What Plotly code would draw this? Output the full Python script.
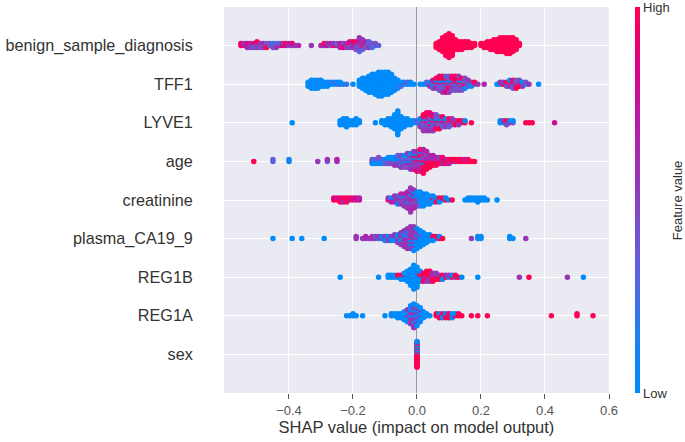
import numpy as np
import plotly.graph_objects as go

# features from bottom row to top row
features = ["sex", "REG1A", "REG1B", "plasma_CA19_9", "creatinine", "age",
            "LYVE1", "TFF1", "benign_sample_diagnosis"]

x_ticks = [-0.4, -0.2, 0.0, 0.2, 0.4, 0.6]
x_ticktext = ["\u22120.4", "\u22120.2", "0.0", "0.2", "0.4", "0.6"]

# shap values (binned) and the feature values of the points in each bin
# (one digit per point, 0 = low ... 9 = high)
benign_x = [-0.55, -0.54, -0.53, -0.52, -0.51, -0.50, -0.49, -0.48, -0.47, -0.46, -0.45, -0.44, -0.43,
            -0.42, -0.41, -0.40, -0.39, -0.38, -0.37, -0.33, -0.30, -0.29, -0.28, -0.27, -0.26, -0.25,
            -0.24, -0.23, -0.22, -0.21, -0.20, -0.19, -0.18, -0.17, -0.16, -0.15, -0.14, -0.13, -0.12,
            0.06, 0.07, 0.08, 0.09, 0.10, 0.11, 0.12, 0.13, 0.14, 0.15, 0.16, 0.17, 0.18,
            0.20, 0.21, 0.22, 0.23, 0.24, 0.25, 0.26, 0.27, 0.28, 0.29, 0.30, 0.31, 0.32]
benign_fv = ["98", "75", "586", "465", "573", "6459", "354", "465", "539", "34", "324", "235", "63",
             "85", "79", "46", "58", "5", "6", "5", "6", "59", "75", "46", "95", "63",
             "576", "648", "465", "5947", "5468", "65494", "56454735", "459635", "3546", "4253", "342", "34", "3",
             "999", "99999", "99999999", "99999999999", "9999999999999", "99999999999", "999999", "99999",
             "99999", "9999", "9999", "999", "99",
             "99", "999", "9999", "99999", "999999", "9999999", "99999999", "99999999", "999999999",
             "999999999", "99999999", "999999", "99"]

tff1_x = [-0.34, -0.33, -0.32, -0.31, -0.30, -0.29, -0.28, -0.27, -0.26, -0.25, -0.24, -0.23, -0.22,
          -0.20, -0.18, -0.17, -0.16, -0.15, -0.14, -0.13, -0.12, -0.11, -0.10, -0.09, -0.08, -0.07,
          -0.06, -0.05, -0.04, -0.03, -0.02, -0.01, 0.01, 0.02, 0.03, 0.04, 0.05, 0.06, 0.07, 0.08,
          0.09, 0.10, 0.11, 0.12, 0.13, 0.14, 0.15, 0.16, 0.17, 0.18, 0.19, 0.21, 0.25, 0.26, 0.27,
          0.28, 0.29, 0.30, 0.31, 0.32, 0.33, 0.34, 0.35, 0.38]
tff1_fv = ["000", "00100", "00000", "00010", "0000", "000", "010", "00", "02", "00", "30", "0", "2",
           "0", "0000", "000000", "0000000", "000000000", "0000000000", "00000000000", "0000000000000",
           "0000000000000", "000000000000", "000000000000", "0000000000", "0000000",
           "00001", "002", "20", "03", "00", "0", "0", "0", "03", "305", "53074", "394059", "59403948",
           "954039495", "493059438", "954093845", "39405948", "05394849", "49503945", "3940594", "549304",
           "4035", "350", "49", "5", "6", "0", "05", "95",
           "594", "4950", "59493", "94539", "3594", "405", "04", "5", "0"]

lyve1_x = [-0.39, -0.24, -0.23, -0.22, -0.21, -0.20, -0.19, -0.18, -0.13, -0.11, -0.10, -0.09, -0.08,
           -0.07, -0.06, -0.05, -0.04, -0.03, -0.02, -0.01, 0.00, 0.01, 0.02, 0.03, 0.04, 0.05, 0.06,
           0.07, 0.08, 0.09, 0.10, 0.11, 0.12, 0.13, 0.14, 0.15, 0.17, 0.26, 0.27, 0.28, 0.29, 0.30,
           0.34, 0.35, 0.36, 0.43]
lyve1_fv = ["0", "000", "0000", "00000", "000", "000", "0000", "00", "0", "00", "000", "0000", "00000",
            "00000000", "0000000000000", "0000000", "00000", "0000", "000", "00", "03", "40305", "594039495",
            "4950394859", "9405934958", "594039485", "49405394",
            "5940349", "495039", "59405", "94593", "5945", "959", "495", "59", "90", "9", "00", "05", "594",
            "50", "40", "9", "9", "9", "7"]

age_x = [-0.51, -0.45, -0.40, -0.31, -0.28, -0.25, -0.14, -0.13, -0.12, -0.11, -0.10, -0.09, -0.08,
         -0.07, -0.06, -0.05, -0.04, -0.03, -0.02, -0.01, 0.00, 0.01, 0.02, 0.03, 0.04, 0.05, 0.06,
         0.07, 0.08, 0.09, 0.10, 0.11, 0.12, 0.13, 0.14, 0.15, 0.16, 0.17, 0.18]
age_fv = ["9", "33", "11", "5", "35", "56", "930", "030", "0304", "030", "403", "0340", "3040",
          "40305", "304053", "4053045", "5403504", "45036045", "540365405", "6540594065", "59604950659",
          "695049695069", "9695049695969", "9596959496", "9695969", "969596", "95969",
          "9695", "9969", "969", "996", "99", "69", "99", "99", "96", "99", "9", "9"]

creat_x = [-0.26, -0.25, -0.24, -0.23, -0.22, -0.21, -0.20, -0.19, -0.18, -0.09, -0.08, -0.07, -0.06,
           -0.05, -0.04, -0.03, -0.02, -0.01, 0.00, 0.01, 0.02, 0.03, 0.04, 0.05, 0.06, 0.07, 0.08,
           0.09, 0.10, 0.11, 0.15, 0.16, 0.17, 0.18, 0.19, 0.20, 0.21, 0.22, 0.25]
creat_fv = ["98", "97", "989", "796", "989", "69", "97", "68", "76", "95", "506", "5065", "56540",
            "654056", "5640565", "565406565", "6565405654655", "5650465065", "06504050", "00010020",
            "0001000", "000100", "00200", "0900", "009", "090", "09",
            "90", "0", "9", "0", "00", "00", "00", "000", "00", "00", "0", "0"]

plasma_x = [-0.45, -0.39, -0.36, -0.29, -0.19, -0.17, -0.16, -0.15, -0.14, -0.13, -0.12, -0.11, -0.10,
            -0.09, -0.08, -0.07, -0.06, -0.05, -0.04, -0.03, -0.02, -0.01, 0.00, 0.01, 0.02, 0.03,
            0.04, 0.05, 0.06, 0.07, 0.08, 0.17, 0.19, 0.20, 0.29, 0.30, 0.34]
plasma_fv = ["0", "0", "0", "0", "55", "5", "56", "5", "56", "54", "05", "50", "050",
             "505", "050", "0505", "50505", "5505055", "555050555", "55505550555", "555505550555",
             "5555055505550", "05500505000", "000500000", "0000000", "00000",
             "0000", "090", "09", "90", "9", "5", "00", "00", "00", "0", "5"]

reg1b_x = [-0.24, -0.12, -0.09, -0.08, -0.07, -0.06, -0.05, -0.04, -0.03, -0.02, -0.01, 0.00, 0.01,
           0.02, 0.03, 0.04, 0.05, 0.06, 0.07, 0.08, 0.09, 0.10, 0.11, 0.12, 0.13, 0.14, 0.19, 0.32,
           0.35, 0.47, 0.52]
reg1b_fv = ["0", "0", "00", "00", "00", "09", "090", "0900", "000000", "000000000", "0000000000000",
            "00000000000", "090900", "99599", "959959", "995959", "95959", "9595", "959", "590", "95",
            "05", "90", "59", "9", "0", "0", "5", "9", "5", "0"]

reg1a_x = [-0.22, -0.21, -0.20, -0.19, -0.17, -0.10, -0.08, -0.07, -0.06, -0.05, -0.04, -0.03, -0.02,
           -0.01, 0.00, 0.01, 0.02, 0.03, 0.04, 0.06, 0.07, 0.08, 0.09, 0.10, 0.11, 0.12, 0.13, 0.14,
           0.17, 0.19, 0.22, 0.42, 0.50, 0.55]
reg1a_fv = ["0", "0", "00", "0", "0", "0", "00", "00", "000", "000", "00000", "0050050", "0505505050",
            "5505505505505", "50055005500", "00500500", "0000", "00", "0", "99", "909", "990", "909",
            "099", "900", "90", "99", "9", "9", "9", "9", "9", "99", "9"]

sex_x = [0.0]
sex_fv = ["909590999095909990909995909"]

rows = [(sex_x, sex_fv), (reg1a_x, reg1a_fv), (reg1b_x, reg1b_fv), (plasma_x, plasma_fv),
        (creat_x, creat_fv), (age_x, age_fv), (lyve1_x, lyve1_fv), (tff1_x, tff1_fv),
        (benign_x, benign_fv)]


def beeswarm(xs, fvs, row, row_height=0.4):
    # same stacking as shap's summary_plot: alternate up/down inside a bin
    assert len(xs) == len(fvs)
    px, py, pc = [], [], []
    for x, s in zip(xs, fvs):
        for layer, ch in enumerate(s):
            px.append(x)
            py.append(np.ceil(layer / 2) * ((layer % 2) * 2 - 1))
            pc.append(int(ch) / 9)
    py = np.array(py)
    py = py * 0.9 * row_height / np.max(py + 1)
    return px, list(row + py), pc


all_x, all_y, all_c = [], [], []
for i, (xs, fvs) in enumerate(rows):
    px, py, pc = beeswarm(xs, fvs, i)
    all_x += px
    all_y += py
    all_c += pc

red_blue = [[0.0, "#008bfb"], [0.15, "#1e80f0"], [0.3, "#5a63e0"], [0.45, "#7c4cc8"],
            [0.55, "#9636b8"], [0.7, "#b81ca8"], [0.85, "#de0084"], [1.0, "#ff0052"]]

fig = go.Figure(go.Scatter(
    x=all_x, y=all_y, mode="markers", hoverinfo="skip",
    marker=dict(size=5.5, color=all_c, colorscale=red_blue, cmin=0, cmax=1,
                line=dict(width=0),
                colorbar=dict(thickness=5, len=1, y=0.5, yanchor="middle", x=1.0675, xanchor="left",
                              xpad=0, ypad=0, outlinewidth=0,
                              tickvals=[0, 1], ticktext=["Low", "High"], ticks="",
                              ticklabeloverflow="allow",
                              tickfont=dict(size=13, color="#333333"))),
))

# colorbar title placed by hand so it sits where the reference has it
fig.add_annotation(text="Feature value", xref="paper", yref="paper", x=1.177, y=0.5,
                   xanchor="center", yanchor="middle",
                   textangle=-90, showarrow=False, font=dict(size=13, color="#333333"))

fig.update_layout(
    width=685, height=442,
    margin=dict(l=224, r=76, t=7, b=49),
    paper_bgcolor="white", plot_bgcolor="#EAEAF2",
    font=dict(family="Liberation Sans, Arial, sans-serif", color="#333333"),
    showlegend=False,
    xaxis=dict(range=[-0.603, 0.6], tickvals=x_ticks, ticktext=x_ticktext,
               showgrid=True, gridcolor="white", gridwidth=1.3,
               zeroline=True, zerolinecolor="#999999", zerolinewidth=1,
               ticks="outside", ticklen=5, tickcolor="#555555",
               tickfont=dict(size=13, color="#555555"),
               title=dict(text="SHAP value (impact on model output)", standoff=4,
                          font=dict(size=16.5, color="#333333"))),
    yaxis=dict(range=[-1, 9], tickvals=list(range(len(features))), ticktext=features,
               showgrid=True, gridcolor="white", gridwidth=1.3, zeroline=False,
               ticks="outside", ticklen=27, tickcolor="rgba(0,0,0,0)",
               tickfont=dict(size=16.2, color="#333333")),
)

# the page body has a default 8px margin; drop it so the figure sits at 0,0
fig.write_html("out.html", config={"displayModeBar": False},
               post_script="document.body.style.margin='0';")
